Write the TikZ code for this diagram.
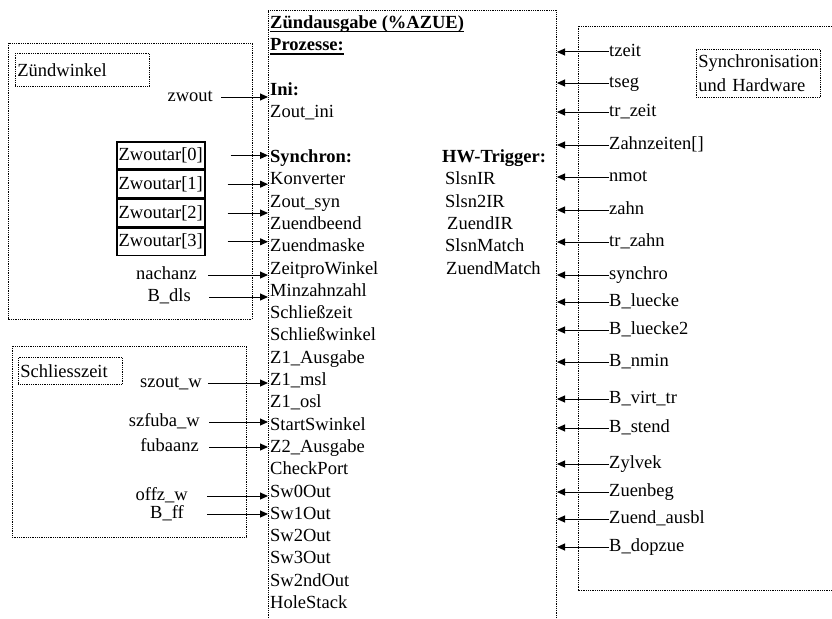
\documentclass[tikz,border=0pt]{standalone}
\usepackage{fontspec}
\setmainfont{Liberation Serif}
\usetikzlibrary{arrows.meta}
\begin{document}
\begin{tikzpicture}[x=1pt,y=-1pt,
  txt/.style={inner sep=0pt, font=\fontsize{18.5}{22.3}\selectfont, text height=13pt, text depth=4pt},
  lt/.style={txt, anchor=west},
  rt/.style={txt, anchor=east},
  dotbox/.style={draw, line width=0.8pt, dash pattern=on 0.9pt off 0.9pt},
  arr/.style={line width=1pt, -{Triangle[length=8pt,width=7pt]}},
  ulin/.style={line width=1.6pt},
  zbox/.style={draw, line width=1.5pt, minimum width=88pt, minimum height=27.3pt, inner sep=0pt,
    anchor=north west, font=\fontsize{18.5}{22.3}\selectfont},
  lbox/.style={dotbox, anchor=north west, inner xsep=2pt, inner ysep=0pt, align=left,
    font=\fontsize{18.5}{23.5}\selectfont}]
\useasboundingbox (0,0) rectangle (832,618);

% frames
\coordinate (cL) at (268,10);
\coordinate (cR) at (557,10);
\draw[dotbox] (268,618) -- (268,10) -- (556,10) -- (556,618);
\draw[dotbox] (832,26) -- (578,26) -- (578,590) -- (832,590);
\draw[dotbox] (8,43) rectangle (252,319);
\draw[dotbox] (12,346) rectangle (246,537);

% group labels
\node[lbox, text width=130pt, minimum height=33pt] (gzw) at (15,53) {Zündwinkel};
\node[lbox, text width=100pt, minimum height=27pt] (gsz) at (18,357) {Schliesszeit};
\node[lbox, text width=120pt, minimum height=48pt] (gsh) at (696,49) {Synchronisation\\und Hardware};

% centre column
\node[lt] (t0) at (270,24) {\textbf{Zündausgabe (\%AZUE)}};
\node[lt] (t1) at (270,46.5) {\textbf{Prozesse:}};
\draw[ulin] ([yshift=-3pt]t0.base west) -- ([yshift=-3pt]t0.base east);
\draw[ulin] ([yshift=-3pt]t1.base west) -- ([yshift=-3pt]t1.base east);
\node[lt] (ini) at (270,91) {\textbf{Ini:}};
\node[lt] (zini) at (270,113) {Zout\_ini};
\node[lt] (syn) at (270,158) {\textbf{Synchron:}};
\foreach \t [count=\i from 0] in {Konverter, Zout\_syn, Zuendbeend, Zuendmaske, ZeitproWinkel,
  Minzahnzahl, Schließzeit, Schließwinkel, Z1\_Ausgabe, Z1\_msl, Z1\_osl, StartSwinkel,
  Z2\_Ausgabe, CheckPort, Sw0Out, Sw1Out, Sw2Out, Sw3Out, Sw2ndOut, HoleStack}
  \node[lt] (p\i) at (270,180.3+22.3*\i) {\t};

% HW trigger column
\node[lt] (hw) at (442,158) {\textbf{HW-Trigger:}};
\node[lt] (h1) at (445,180.3) {SlsnIR};
\node[lt] (h2) at (445,202.6) {Slsn2IR};
\node[lt] (h3) at (447,224.9) {ZuendIR};
\node[lt] (h4) at (445,247.2) {SlsnMatch};
\node[lt] (h5) at (446,269.5) {ZuendMatch};

% Zuendwinkel inputs
\node[rt] (zwout) at (213,97) {zwout};
\draw[arr, shorten <=8pt] (zwout) -- (zwout -| cL);
\node[zbox] (zw0) at (116,141) {Zwoutar[0]};
\node[zbox] (zw1) at (zw0.south west) {Zwoutar[1]};
\node[zbox] (zw2) at (zw1.south west) {Zwoutar[2]};
\node[zbox] (zw3) at (zw2.south west) {Zwoutar[3]};
\draw[arr, shorten <=25pt] (zw0) -- (zw0 -| cL);
\draw[arr, shorten <=22pt] (zw1) -- (zw1 -| cL);
\draw[arr, shorten <=22pt] (zw2) -- (zw2 -| cL);
\draw[arr, shorten <=22pt] (zw3) -- (zw3 -| cL);
\node[rt] (nach) at (197,275) {nachanz};
\draw[arr, shorten <=11pt] (nach) -- (nach -| cL);
\node[rt] (bdls) at (191,297) {B\_dls};
\draw[arr, shorten <=18pt] (bdls) -- (bdls -| cL);

% Schliesszeit inputs
\node[rt] (szo) at (202,383) {szout\_w};
\draw[arr, shorten <=6pt] (szo) -- (szo -| cL);
\node[rt] (szf) at (200,422) {szfuba\_w};
\draw[arr, shorten <=9pt] (szf) -- (szf -| cL);
\node[rt] (fub) at (199,447) {fubaanz};
\draw[arr, shorten <=10pt] (fub) -- (fub -| cL);
\node[rt] (offz) at (188,496) {offz\_w};
\draw[arr, shorten <=19pt] (offz) -- (offz -| cL);
\node[rt] (bff) at (184,514) {B\_ff};
\draw[arr, shorten <=23pt] (bff) -- (bff -| cL);

% Synchronisation inputs
\foreach \t/\yy [count=\i] in {tzeit/52, tseg/83, tr\_zeit/112, Zahnzeiten[]/145, nmot/177,
  zahn/210, tr\_zahn/242, synchro/275, B\_luecke/302, B\_luecke2/330, B\_nmin/362,
  B\_virt\_tr/399, B\_stend/428, Zylvek/464, Zuenbeg/492, Zuend\_ausbl/519, B\_dopzue/547}
{
  \node[lt] (r\i) at (609,\yy) {\t};
  \draw[arr] (r\i) -- (r\i -| cR);
}
\end{tikzpicture}
\end{document}
